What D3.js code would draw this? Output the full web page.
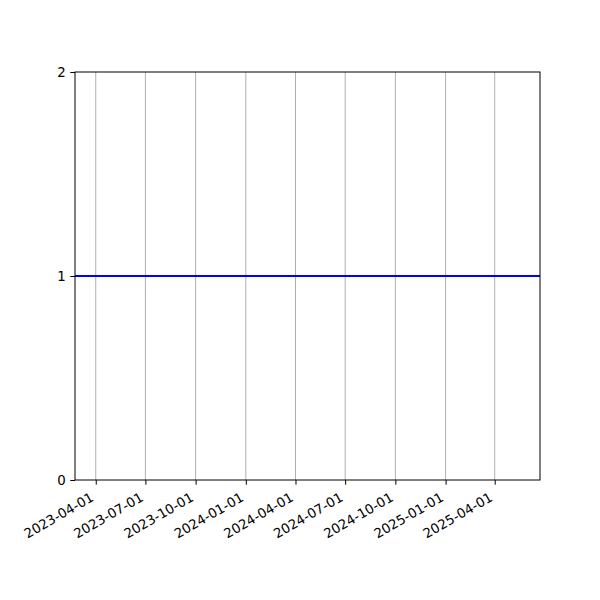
<!DOCTYPE html>
<html lang="en">
<head>
<meta charset="utf-8">
<title>Chart</title>
<script src="https://d3js.org/d3.v7.min.js"></script>
<style>
  body { margin: 0; background: #fff; }
  text { font-family: "DejaVu Sans", sans-serif; font-size: 13.33px; fill: #000; }
</style>
</head>
<body>
<div id="chart"></div>
<script>
// data
var xRange = ["2023-02-22", "2025-06-23"];
var seriesDates = ["2023-02-22", "2025-06-23"];
var seriesValues = [1, 1];
var xTicks = ["2023-04-01", "2023-07-01", "2023-10-01", "2024-01-01", "2024-04-01",
              "2024-07-01", "2024-10-01", "2025-01-01", "2025-04-01"];
var yTicks = [0, 1, 2];

var parse = d3.timeParse("%Y-%m-%d"),
    fmt = d3.timeFormat("%Y-%m-%d");

var width = 600, height = 600,
    margin = {top: 72, right: 60, bottom: 120, left: 75},
    w = width - margin.left - margin.right,
    h = height - margin.top - margin.bottom;

var svg = d3.select("#chart").append("svg")
    .attr("width", width)
    .attr("height", height);

var g = svg.append("g")
    .attr("transform", "translate(" + margin.left + "," + margin.top + ")");

var x = d3.scaleTime()
    .domain(xRange.map(parse))
    .range([0, w]);

var y = d3.scaleLinear()
    .domain([0, 2])
    .range([h, 0]);

// vertical grid
g.selectAll(".grid")
    .data(xTicks.map(parse))
    .enter().append("line")
    .attr("class", "grid")
    .attr("x1", function(d) { return x(d); })
    .attr("x2", function(d) { return x(d); })
    .attr("y1", 0)
    .attr("y2", h)
    .attr("stroke", "#b0b0b0")
    .attr("stroke-width", 1);

// series
var pts = seriesDates.map(function(d, i) { return {date: parse(d), value: seriesValues[i]}; });
g.append("path")
    .datum(pts)
    .attr("fill", "none")
    .attr("stroke", "#0000ff")
    .attr("stroke-width", 2)
    .attr("d", d3.line()
        .x(function(d) { return x(d.date); })
        .y(function(d) { return y(d.value); }));

// axes
var xAxis = g.append("g")
    .attr("transform", "translate(0," + h + ")")
    .call(d3.axisBottom(x).tickValues(xTicks.map(parse)).tickFormat(fmt).tickSizeOuter(0).tickSize(4.7));

xAxis.selectAll(".tick text")
    .attr("text-anchor", "end")
    .attr("x", 0)
    .attr("y", 0)
    .attr("dy", null)
    .attr("transform", "translate(-1.6,20) rotate(-30)");

g.append("g")
    .call(d3.axisLeft(y).tickValues(yTicks).tickFormat(d3.format("d")).tickSizeOuter(0).tickSize(4.7).tickPadding(4.7));

svg.selectAll(".domain").remove();
svg.selectAll(".tick line").attr("stroke", "#000").attr("stroke-width", 1);
svg.selectAll(".tick text").style("font-size", "13.33px").style("font-family", "DejaVu Sans");

// frame
g.append("rect")
    .attr("x", 0).attr("y", 0)
    .attr("width", w).attr("height", h)
    .attr("fill", "none")
    .attr("stroke", "#000")
    .attr("stroke-width", 1);
</script>
</body>
</html>
